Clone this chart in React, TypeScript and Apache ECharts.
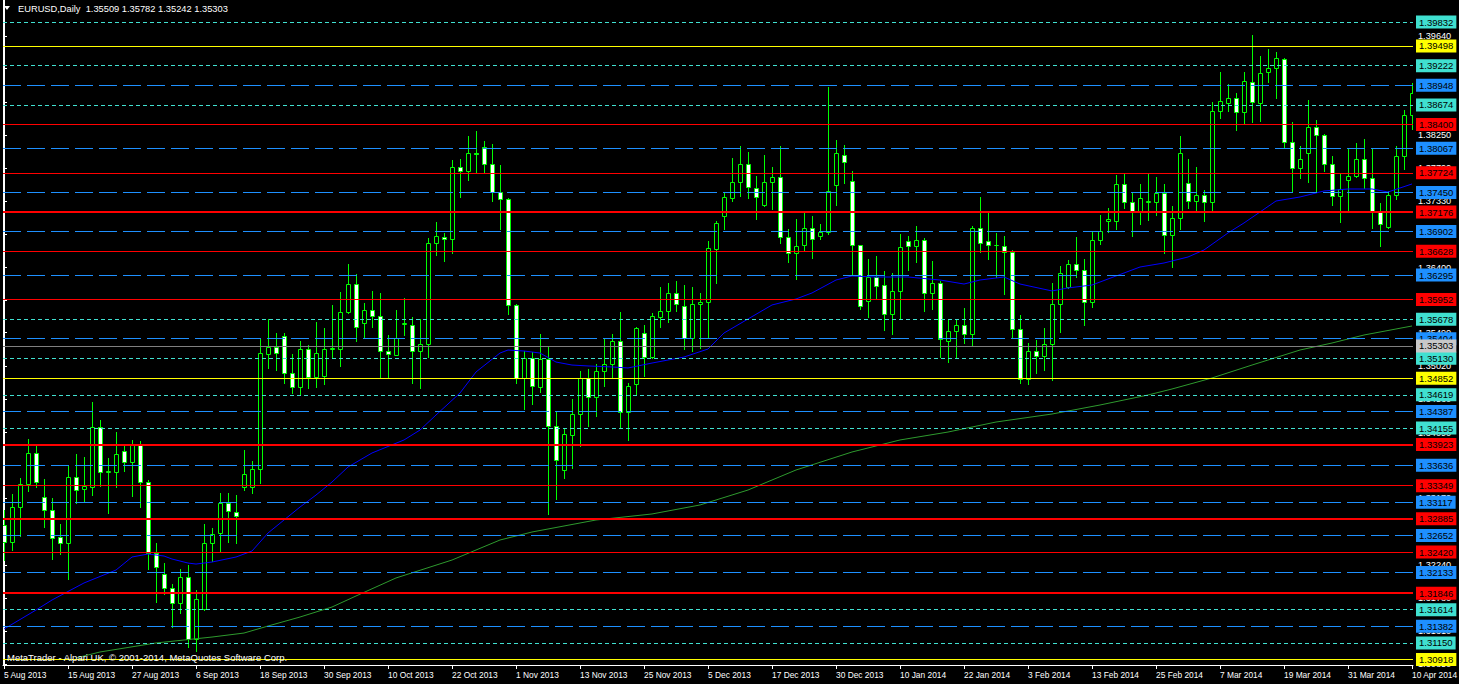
import React, { useEffect, useRef } from "react";
import * as echarts from "echarts";

const FONT = "'Liberation Sans', Arial, sans-serif";

const dateLabels = [
  "5 Aug 2013", "15 Aug 2013", "27 Aug 2013", "6 Sep 2013", "18 Sep 2013", "30 Sep 2013",
  "10 Oct 2013", "22 Oct 2013", "1 Nov 2013", "13 Nov 2013", "25 Nov 2013", "5 Dec 2013",
  "17 Dec 2013", "30 Dec 2013", "10 Jan 2014", "22 Jan 2014", "3 Feb 2014", "13 Feb 2014",
  "25 Feb 2014", "7 Mar 2014", "19 Mar 2014", "31 Mar 2014", "10 Apr 2014",
];

const open = [
  1.32799, 1.32561, 1.33050, 1.33372, 1.33806, 1.33190, 1.33009, 1.32631, 1.32547, 1.33470,
  1.33302, 1.33330, 1.34169, 1.33540, 1.33540, 1.33834, 1.33680, 1.33918, 1.33400, 1.32407,
  1.32113, 1.31918, 1.31708, 1.32071, 1.31204, 1.31624, 1.32547, 1.32687, 1.33106, 1.32981,
  1.33330, 1.33330, 1.33582, 1.35190, 1.35288, 1.35442, 1.34925, 1.34729, 1.35260, 1.34869,
  1.34883, 1.35260, 1.35260, 1.35778, 1.36169, 1.35624, 1.35806, 1.35722, 1.35232, 1.35176,
  1.35610, 1.35596, 1.35232, 1.35330, 1.36743, 1.36827, 1.36799, 1.37806, 1.37750, 1.38001,
  1.38085, 1.37848, 1.37456, 1.37358, 1.35876, 1.34855, 1.35134, 1.34729, 1.35120, 1.34183,
  1.33568, 1.34057, 1.34351, 1.34855, 1.34589, 1.34953, 1.35050, 1.35372, 1.34379, 1.34771,
  1.35484, 1.35148, 1.35708, 1.35792, 1.36044, 1.35862, 1.35414, 1.35890, 1.35918, 1.36659,
  1.37120, 1.37372, 1.37596, 1.37848, 1.37512, 1.37274, 1.37596, 1.37666, 1.36827, 1.36603,
  1.36715, 1.36953, 1.36841, 1.36897, 1.37554, 1.37974, 1.37610, 1.36715, 1.35932, 1.36267,
  1.36155, 1.35750, 1.36072, 1.36771, 1.36701, 1.36785, 1.36044, 1.36183, 1.35372, 1.35512,
  1.35596, 1.35470, 1.36953, 1.36771, 1.36715, 1.36701, 1.36617, 1.35540, 1.34841, 1.35232,
  1.35162, 1.35330, 1.35890, 1.36127, 1.36449, 1.36365, 1.35918, 1.36785, 1.37050, 1.37050,
  1.37568, 1.37316, 1.37176, 1.37316, 1.37316, 1.37442, 1.36855, 1.37092, 1.37582, 1.37330,
  1.37414, 1.37316, 1.38589, 1.38701, 1.38771, 1.38575, 1.38995, 1.38701, 1.39134, 1.39190,
  1.39316, 1.38155, 1.37792, 1.38001, 1.38365, 1.38253, 1.37848, 1.37400, 1.37624, 1.37680,
  1.37918, 1.37652, 1.37190, 1.36967, 1.37414, 1.37960, 1.38533,
];
const high = [
  1.33009, 1.33232, 1.33456, 1.34002, 1.33904, 1.33442, 1.33176, 1.32813, 1.33624, 1.33792,
  1.33750, 1.34519, 1.34267, 1.33736, 1.34099, 1.33932, 1.33988, 1.33974, 1.33428, 1.32547,
  1.32267, 1.31974, 1.32183, 1.32239, 1.31890, 1.32813, 1.32757, 1.33246, 1.33246, 1.33218,
  1.33848, 1.33694, 1.35414, 1.35680, 1.35484, 1.35484, 1.35190, 1.35372, 1.35316, 1.35638,
  1.35554, 1.35876, 1.36058, 1.36449, 1.36309, 1.35904, 1.36072, 1.36044, 1.35456, 1.35806,
  1.35974, 1.35708, 1.35680, 1.36813, 1.37037, 1.36883, 1.37904, 1.37918, 1.38239, 1.38309,
  1.38169, 1.38127, 1.37834, 1.37372, 1.35890, 1.35232, 1.35218, 1.35470, 1.35288, 1.34393,
  1.34155, 1.34561, 1.34953, 1.34981, 1.35050, 1.35414, 1.35470, 1.35778, 1.34785, 1.35568,
  1.35596, 1.35764, 1.36127, 1.36183, 1.36211, 1.36155, 1.36127, 1.36044, 1.36771, 1.37050,
  1.37456, 1.37932, 1.38099, 1.38015, 1.37680, 1.37974, 1.37806, 1.38099, 1.36939, 1.37078,
  1.37162, 1.37120, 1.37009, 1.38925, 1.38183, 1.38113, 1.37750, 1.36720, 1.36519, 1.36561,
  1.36351, 1.36323, 1.36869, 1.36841, 1.36981, 1.36813, 1.36491, 1.36211, 1.35680, 1.35680,
  1.35834, 1.36981, 1.37386, 1.37162, 1.36883, 1.36841, 1.36645, 1.35736, 1.35344, 1.35386,
  1.35554, 1.36183, 1.36421, 1.36505, 1.36827, 1.36519, 1.36911, 1.37134, 1.37232, 1.37694,
  1.37722, 1.37442, 1.37568, 1.37708, 1.37666, 1.37568, 1.37260, 1.38239, 1.37918, 1.37806,
  1.37484, 1.38715, 1.39134, 1.38967, 1.38841, 1.39134, 1.39652, 1.39358, 1.39456, 1.39414,
  1.39330, 1.38435, 1.38099, 1.38743, 1.38463, 1.38267, 1.37960, 1.37722, 1.38071, 1.38141,
  1.38197, 1.38057, 1.37302, 1.37470, 1.38099, 1.38603, 1.38981,
];
const low = [
  1.32309, 1.32449, 1.32645, 1.33274, 1.33330, 1.32771, 1.32323, 1.32393, 1.32043, 1.33106,
  1.33134, 1.33218, 1.33344, 1.32967, 1.33330, 1.33554, 1.33204, 1.33050, 1.32183, 1.31722,
  1.31834, 1.31372, 1.31568, 1.31093, 1.31037, 1.31610, 1.32295, 1.32421, 1.32561, 1.32547,
  1.33288, 1.33246, 1.33386, 1.34995, 1.34967, 1.34785, 1.34645, 1.34617, 1.34715, 1.34729,
  1.34771, 1.35148, 1.35023, 1.35770, 1.35372, 1.35414, 1.35568, 1.34855, 1.34869, 1.35170,
  1.35456, 1.34785, 1.34715, 1.35148, 1.36575, 1.36491, 1.36603, 1.37386, 1.37624, 1.37722,
  1.37722, 1.37330, 1.36939, 1.35750, 1.34785, 1.34421, 1.34491, 1.34659, 1.32953, 1.33162,
  1.33456, 1.33596, 1.33904, 1.34183, 1.34323, 1.34743, 1.34855, 1.34155, 1.33988, 1.34617,
  1.34883, 1.35134, 1.35568, 1.35638, 1.35792, 1.35260, 1.35232, 1.35274, 1.35428, 1.36183,
  1.36939, 1.37330, 1.37400, 1.37372, 1.37078, 1.37260, 1.37218, 1.36743, 1.36477, 1.36239,
  1.36645, 1.36533, 1.36799, 1.36869, 1.37274, 1.37582, 1.36295, 1.35820, 1.35708, 1.35960,
  1.35526, 1.35470, 1.35694, 1.36365, 1.36477, 1.35792, 1.35820, 1.35148, 1.35078, 1.35148,
  1.35344, 1.35302, 1.36617, 1.36519, 1.36267, 1.36030, 1.35414, 1.34785, 1.34771, 1.34925,
  1.34967, 1.34827, 1.35498, 1.36120, 1.36267, 1.35596, 1.35848, 1.36729, 1.36897, 1.36939,
  1.37232, 1.36841, 1.37009, 1.37064, 1.37134, 1.36603, 1.36407, 1.36939, 1.37232, 1.37204,
  1.37050, 1.37176, 1.38491, 1.38589, 1.38323, 1.38421, 1.38435, 1.38449, 1.38995, 1.38771,
  1.38085, 1.37470, 1.37652, 1.37596, 1.37470, 1.37750, 1.37274, 1.37037, 1.37204, 1.37666,
  1.37512, 1.36953, 1.36701, 1.36953, 1.37358, 1.37778, 1.38337,
];
const close = [
  1.32561, 1.33050, 1.33372, 1.33806, 1.33400, 1.33009, 1.32617, 1.32547, 1.33470, 1.33288,
  1.33344, 1.34169, 1.33540, 1.33550, 1.33792, 1.33680, 1.33918, 1.33400, 1.32407, 1.32211,
  1.31918, 1.31708, 1.32071, 1.31204, 1.31764, 1.32547, 1.32673, 1.33106, 1.32995, 1.32925,
  1.33512, 1.33582, 1.35204, 1.35288, 1.35204, 1.34925, 1.34729, 1.35260, 1.34869, 1.35204,
  1.35260, 1.35270, 1.35778, 1.36169, 1.35568, 1.35806, 1.35722, 1.35232, 1.35190, 1.35414,
  1.35620, 1.35232, 1.35330, 1.36743, 1.36841, 1.36799, 1.37806, 1.37750, 1.38001, 1.37990,
  1.37848, 1.37456, 1.37358, 1.35876, 1.34855, 1.35134, 1.34743, 1.35120, 1.34183, 1.33708,
  1.34071, 1.34351, 1.34855, 1.34589, 1.34953, 1.35050, 1.35372, 1.34379, 1.34743, 1.35554,
  1.35148, 1.35722, 1.35792, 1.36044, 1.35890, 1.35414, 1.35890, 1.35918, 1.36673, 1.37023,
  1.37386, 1.37596, 1.37848, 1.37526, 1.37386, 1.37596, 1.37666, 1.36827, 1.36603, 1.36701,
  1.36953, 1.36799, 1.36897, 1.37470, 1.38001, 1.37876, 1.36715, 1.35862, 1.36267, 1.36141,
  1.35750, 1.36072, 1.36687, 1.36701, 1.36785, 1.36044, 1.36183, 1.35400, 1.35512, 1.35596,
  1.35470, 1.36953, 1.36743, 1.36715, 1.36710, 1.36617, 1.35540, 1.34841, 1.35232, 1.35162,
  1.35330, 1.35890, 1.36323, 1.36449, 1.36365, 1.35918, 1.36785, 1.36911, 1.37078, 1.37568,
  1.37316, 1.37176, 1.37372, 1.37325, 1.37442, 1.36855, 1.37092, 1.38001, 1.37330, 1.37414,
  1.37316, 1.38589, 1.38729, 1.38771, 1.38575, 1.39009, 1.38715, 1.39120, 1.39190, 1.39330,
  1.38155, 1.37792, 1.37918, 1.38365, 1.38253, 1.37848, 1.37400, 1.37498, 1.37680, 1.37918,
  1.37652, 1.37190, 1.37009, 1.37414, 1.37960, 1.38533, 1.38841,
];

const priceTicks = [
  1.3964, 1.3918, 1.3871, 1.3825, 1.3779, 1.3733, 1.3686, 1.364, 1.3594, 1.3549,
  1.3502, 1.3456, 1.3409, 1.3363, 1.3317, 1.327, 1.3224, 1.3178, 1.3131, 1.3085,
];

const yellowLevels = [1.39498, 1.34852, 1.30918];
const redThinLevels = [1.384, 1.37724, 1.36628, 1.35952, 1.33349, 1.3242];
const redThickLevels = [1.37176, 1.33923, 1.32885, 1.31846];
const blueLevels = [
  1.38948, 1.38067, 1.3745, 1.36902, 1.36295, 1.35404, 1.34387, 1.33636, 1.33117, 1.32652,
  1.32133, 1.31382,
];
const cyanLevels = [1.39832, 1.39222, 1.38674, 1.35678, 1.3513, 1.34619, 1.34155, 1.31614, 1.3115];
const currentPrice = 1.35303;

const blueMA = [
  [0, 1.31344], [4, 1.3161], [6, 1.3175], [10, 1.31988], [14, 1.32169], [16, 1.32351],
  [18, 1.32393], [20, 1.32365], [21, 1.32323], [23, 1.32267], [24, 1.32253], [26, 1.32281],
  [29, 1.32351], [31, 1.32435], [33, 1.32687], [35, 1.32869], [37, 1.3305], [39, 1.33218],
  [41, 1.334], [43, 1.3361], [46, 1.33806], [50, 1.33988], [52, 1.34127], [54, 1.34337],
  [57, 1.34645], [59, 1.34939], [62, 1.35204], [63, 1.35246], [65, 1.35232], [67, 1.35204],
  [69, 1.35078], [71, 1.35036], [73, 1.35023], [76, 1.35009], [78, 1.34995], [81, 1.35064],
  [85, 1.35148], [88, 1.3526], [90, 1.35484], [93, 1.3568], [96, 1.35876], [99, 1.3596],
  [101, 1.36044], [104, 1.36225], [106, 1.36281], [109, 1.36267], [113, 1.36267], [117, 1.36225],
  [120, 1.36169], [122, 1.36225], [125, 1.36267], [127, 1.36169], [131, 1.36072], [133, 1.36114],
  [136, 1.36155], [139, 1.36281], [142, 1.36407], [145, 1.36463], [148, 1.36547], [150, 1.36645],
  [153, 1.36883], [155, 1.37023], [157, 1.37176], [159, 1.3733], [162, 1.37386], [165, 1.3747],
  [168, 1.37498], [171, 1.37498], [173, 1.37456], [176, 1.37568],
];
const greenMA = [
  [9, 1.30939], [12, 1.31023], [19, 1.31149], [26, 1.31232], [30, 1.31288], [33, 1.31386],
  [37, 1.31512], [41, 1.31652], [44, 1.31806], [49, 1.32058], [56, 1.32309], [62, 1.32589],
  [66, 1.32701], [74, 1.32869], [81, 1.32953], [87, 1.33079], [93, 1.33288], [99, 1.33568],
  [106, 1.3382], [112, 1.33988], [118, 1.34099], [124, 1.34239], [131, 1.34351], [137, 1.34477],
  [143, 1.34617], [146, 1.34701], [151, 1.34855], [156, 1.35036], [162, 1.35246], [166, 1.35344],
  [170, 1.35456], [176, 1.35582],
];

const headerText = "EURUSD,Daily  1.35509 1.35782 1.35242 1.35303";
const copyrightText = "MetaTrader - Alpari UK, \u00A9 2001-2014, MetaQuotes Software Corp.";

const Y_MAX = 1.40141;
const Y_MIN = 1.30841;

function levelItems(levels: number[], color: string, type: any, width: number, bg?: string) {
  return levels.map((v) => ({
    yAxis: v,
    name: v.toFixed(5),
    lineStyle: { color, type, width },
    label: { backgroundColor: bg || color },
  }));
}

export default function App() {
  const ref = useRef<HTMLDivElement>(null);
  useEffect(() => {
    const chart = echarts.init(ref.current as HTMLDivElement, null, { renderer: "svg" });
    const candles = open.map((o, i) => [i, o, high[i], low[i], close[i]]);
    const tickIdx = dateLabels.map((_, k) => k * 8);

    const markLabel = {
      show: true,
      position: "end",
      formatter: "{b}",
      color: "#000",
      fontSize: 9.5,
      fontFamily: FONT,
      lineHeight: 10,
      padding: [2, 3, 1, 3],
      distance: 3,
    };

    const option: any = {
      animation: false,
      backgroundColor: "#000",
      grid: { left: 3, right: 46, top: 0, bottom: 19, outerBoundsMode: "none", containLabel: false },
      xAxis: {
        type: "value",
        min: -0.125,
        max: 176.125,
        axisLine: { show: true, lineStyle: { color: "#fff", width: 1 } },
        axisTick: { show: true, customValues: tickIdx, length: 4, lineStyle: { color: "#fff" } },
        axisLabel: {
          customValues: tickIdx,
          formatter: (v: number) => dateLabels[Math.round(v / 8)] || "",
          color: "#fff",
          fontSize: 8.4,
          fontFamily: FONT,
          align: "left",
          margin: 6,
          hideOverlap: false,
        },
        splitLine: { show: false },
      },
      yAxis: [
        {
          type: "value",
          position: "right",
          min: Y_MIN,
          max: Y_MAX,
          axisLine: { show: true, lineStyle: { color: "#fff", width: 1 } },
          axisTick: { show: true, customValues: priceTicks, length: 3, lineStyle: { color: "#fff" } },
          axisLabel: {
            customValues: priceTicks,
            formatter: (v: number) => v.toFixed(5),
            color: "#fff",
            fontSize: 9.2,
            fontFamily: FONT,
            margin: 5,
            hideOverlap: false,
          },
          splitLine: { show: false },
        },
        {
          type: "value",
          position: "left",
          min: Y_MIN,
          max: Y_MAX,
          axisLine: { show: true, lineStyle: { color: "#fff", width: 1 } },
          axisTick: { show: false },
          axisLabel: { show: false },
          splitLine: { show: false },
        },
      ],
      series: [
        {
          type: "line",
          name: "levels",
          data: [],
          z: 2,
          silent: true,
          markLine: {
            symbol: ["none", "none"],
            silent: true,
            animation: false,
            precision: 5,
            label: markLabel,
            data: [
              ...levelItems(cyanLevels, "#40E0D0", [4, 3], 1),
              ...levelItems(blueLevels, "#1E90FF", [18, 6], 1),
              ...levelItems(redThinLevels, "#FF0000", "solid", 1),
              ...levelItems(redThickLevels, "#FF0000", "solid", 2),
              ...levelItems(yellowLevels, "#FFFF00", "solid", 1),
            ],
          },
        },
        {
          type: "custom",
          name: "EURUSD",
          z: 3,
          clip: true,
          data: candles,
          encode: { x: 0, y: [1, 2, 3, 4] },
          renderItem: (params: any, api: any) => {
            const i = api.value(0);
            const o = api.value(1);
            const h = api.value(2);
            const l = api.value(3);
            const c = api.value(4);
            const pO = api.coord([i, o]);
            const pC = api.coord([i, c]);
            const pH = api.coord([i, h]);
            const pL = api.coord([i, l]);
            const cx = Math.round(pO[0]);
            const top = Math.round(Math.min(pO[1], pC[1]));
            const bot = Math.round(Math.max(pO[1], pC[1]));
            const bull = c >= o;
            return {
              type: "group",
              children: [
                {
                  type: "line",
                  shape: { x1: cx + 0.5, y1: Math.round(pH[1]), x2: cx + 0.5, y2: Math.round(pL[1]) + 1 },
                  style: { stroke: "#00FF00", lineWidth: 1 },
                },
                {
                  type: "rect",
                  shape: { x: cx - 1.5, y: top + 0.5, width: 4, height: Math.max(bot - top, 0) },
                  style: { fill: bull ? "#000" : "#fff", stroke: "#00FF00", lineWidth: 1 },
                },
              ],
            };
          },
        },
        {
          type: "line",
          name: "MA blue",
          data: blueMA,
          z: 4,
          showSymbol: false,
          silent: true,
          clip: true,
          lineStyle: { color: "#0000FF", width: 1 },
        },
        {
          type: "line",
          name: "MA green",
          data: greenMA,
          z: 4,
          showSymbol: false,
          silent: true,
          clip: true,
          lineStyle: { color: "#2E9A2E", width: 1 },
          markLine: {
            symbol: ["none", "none"],
            silent: true,
            animation: false,
            precision: 5,
            label: markLabel,
            data: levelItems([currentPrice], "#808080", "solid", 1, "#C8C8C8"),
          },
        },
      ],
      graphic: [
        {
          type: "polygon",
          z: 100,
          shape: { points: [[4, 6], [10, 6], [7, 10]] },
          style: { fill: "#fff" },
        },
        {
          type: "text",
          z: 100,
          x: 18,
          y: 9,
          style: {
            text: headerText,
            fill: "#fff",
            font: `9.3px ${FONT}`,
            textVerticalAlign: "middle",
          },
        },
        {
          type: "text",
          z: 100,
          x: 7,
          y: 657,
          style: {
            text: copyrightText,
            fill: "#fff",
            font: `9.5px ${FONT}`,
            textVerticalAlign: "middle",
          },
        },
      ],
    };
    chart.setOption(option);
    return () => chart.dispose();
  }, []);
  return (
    <div
      ref={ref}
      style={{ position: "fixed", left: 0, top: 0, width: 1459, height: 684, background: "#000" }}
    />
  );
}
